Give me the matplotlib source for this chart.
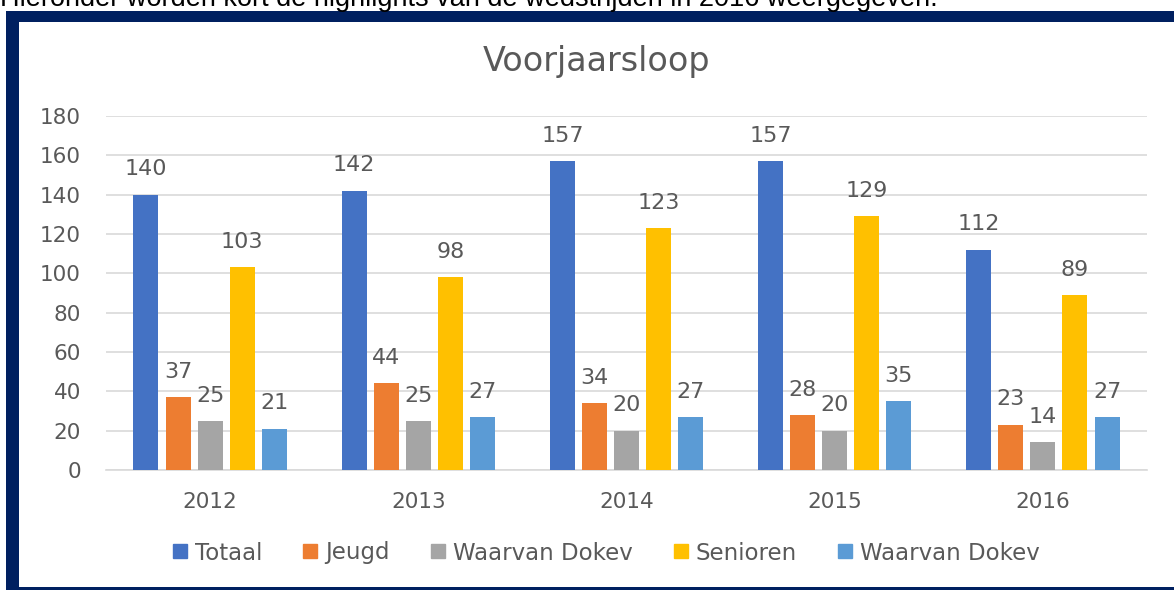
import matplotlib
matplotlib.use("Agg")
import matplotlib.pyplot as plt
from matplotlib.patches import Rectangle
from matplotlib.lines import Line2D
import numpy as np

years = ["2012", "2013", "2014", "2015", "2016"]
series_names = ["Totaal", "Jeugd", "Waarvan Dokev", "Senioren", "Waarvan Dokev"]
totaal = [140, 142, 157, 157, 112]
jeugd = [37, 44, 34, 28, 23]
dokev_jeugd = [25, 25, 20, 20, 14]
senioren = [103, 98, 123, 129, 89]
dokev_senioren = [21, 27, 27, 35, 27]
colors = ["#4472C4", "#ED7D31", "#A5A5A5", "#FFC000", "#5B9BD5"]

TXT = "#595959"
plt.rcParams["font.family"] = ["DejaVu Sans"]

fig = plt.figure(figsize=(11.74, 5.90), dpi=100)
W, H = 1174, 590

# page text cut off above the chart frame
fig.text(0, 1 - 6 / H, "Hieronder worden kort de highlights van de wedstrijden in 2016 weergegeven.",
         family="Liberation Sans", fontsize=19.5, color="black", va="baseline", ha="left")

# navy frame of the embedded chart
navy = "#002060"
fig.patches.append(Rectangle((6 / W, 0), 1, (H - 11) / H, transform=fig.transFigure,
                             facecolor=navy, edgecolor="none", zorder=-2))
fig.patches.append(Rectangle((19 / W, 3 / H), 1, (H - 22 - 3) / H, transform=fig.transFigure,
                             facecolor="white", edgecolor="none", zorder=-1))

ax = fig.add_axes([106 / W, 1 - 470 / H, (1147 - 106) / W, (470 - 116) / H])
ax.set_facecolor("none")

data = [totaal, jeugd, dokev_jeugd, senioren, dokev_senioren]
x = np.arange(len(years))
step = 0.154
width = 0.12
for i, (vals, c) in enumerate(zip(data, colors)):
    pos = x + (i - 2) * step
    bars = ax.bar(pos, vals, width, color=c, zorder=3)
    for b, v in zip(bars, vals):
        ax.annotate(str(v), (b.get_x() + b.get_width() / 2, v), xytext=(0, 11),
                    textcoords="offset points", ha="center", va="bottom",
                    fontsize=16, color=TXT)

ax.set_ylim(0, 180)
ax.set_xlim(-0.5, 4.5)
ax.set_yticks(range(0, 181, 20))
ax.set_xticks(x)
ax.set_xticklabels(years)
ax.yaxis.grid(True, color="#D9D9D9", linewidth=1.2, zorder=0)
ax.set_axisbelow(True)
for s in ["left", "right", "top"]:
    ax.spines[s].set_visible(False)
ax.spines["bottom"].set_color("#D9D9D9")
ax.spines["bottom"].set_linewidth(1.2)
ax.tick_params(axis="y", length=0, pad=18, labelsize=15.5, labelcolor=TXT)
ax.tick_params(axis="x", length=0, pad=16, labelsize=15.5, labelcolor=TXT)

fig.text(597 / W, 1 - 62 / H, "Voorjaarsloop", fontsize=24, color=TXT, ha="center", va="center")

handles = [Line2D([], [], marker="s", linestyle="none", markersize=10, color=c) for c in colors]
fig.legend(handles, series_names, loc="center", bbox_to_anchor=(604 / W, 1 - 553 / H), ncol=5,
           frameon=False, fontsize=16.5, labelcolor=TXT, handletextpad=0.15, columnspacing=1.6,
           handlelength=1.0)

fig.savefig("out.png", dpi=100)
